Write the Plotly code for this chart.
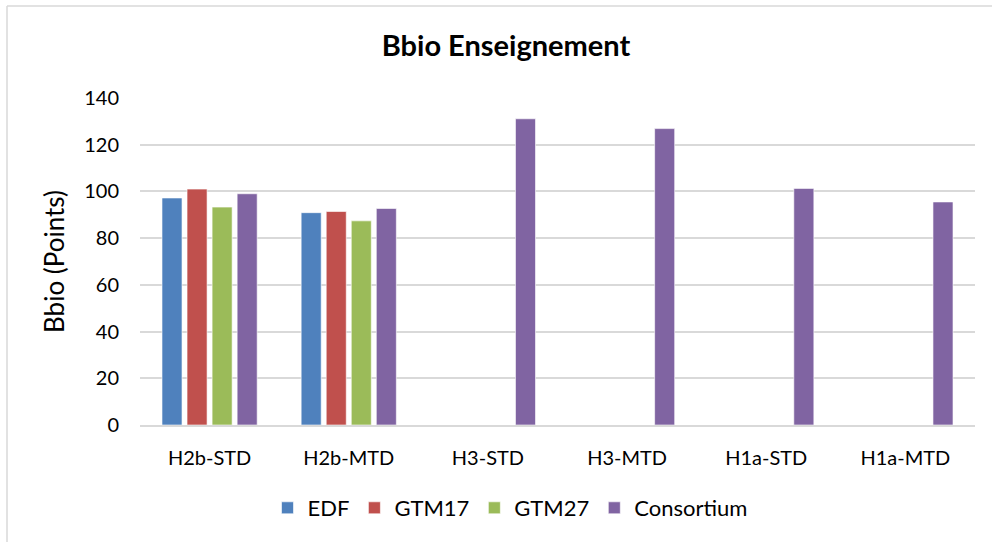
import plotly.graph_objects as go

categories = ["H2b-STD", "H2b-MTD", "H3-STD", "H3-MTD", "H1a-STD", "H1a-MTD"]
edf = [97.2, 90.9, None, None, None, None]
gtm17 = [101.0, 91.4, None, None, None, None]
gtm27 = [93.3, 87.4, None, None, None, None]
consortium = [99.0, 92.7, 131.1, 126.9, 101.3, 95.5]

series_names = ["EDF", "GTM17", "GTM27", "Consortium"]
series_values = [edf, gtm17, gtm27, consortium]
colors = ["#4F81BD", "#C0504D", "#9BBB59", "#8064A2"]

FONT = "Lato"

fig = go.Figure()
for name, vals, col in zip(series_names, series_values, colors):
    fig.add_trace(go.Bar(
        x=categories, y=vals, name=name,
        marker=dict(color=col, line=dict(color="rgba(255,255,255,0.6)", width=1)),
    ))

W, H = 992, 542
L, R, T, B = 140, 17, 98, 117
pw, ph = W - L - R, H - T - B

def px_x(p):
    return (p - L) / pw

def px_y(p):
    return (H - B - p) / ph

fig.update_layout(
    width=W, height=H,
    margin=dict(l=L, r=R, t=T, b=B),
    paper_bgcolor="white", plot_bgcolor="white",
    barmode="group", bargap=0.28, bargroupgap=0.2,
    font=dict(family=FONT, color="#000000"),
    title=dict(text="<b>Bbio Enseignement</b>", x=506 / W, xanchor="center",
               y=1 - 46 / H, yanchor="middle", yref="container",
               font=dict(size=29, family=FONT, color="#000000")),
    xaxis=dict(showgrid=False, showline=True, linecolor="#D9D9D9", linewidth=1.5,
               ticks="", tickfont=dict(size=20, family=FONT), ticklabelstandoff=14),
    yaxis=dict(range=[0, 140], dtick=20, showgrid=True, gridcolor="#D9D9D9", gridwidth=1.5,
               zeroline=False, showline=False, ticks="",
               tickfont=dict(size=20, family=FONT), ticklabelstandoff=20,
               title=dict(text="Bbio (Points)", font=dict(size=26, family=FONT), standoff=12)),
    legend=dict(orientation="h", x=px_x(510), xanchor="center", y=px_y(508), yanchor="middle",
                font=dict(size=22, family=FONT), itemwidth=30, traceorder="normal"),
    showlegend=True,
    shapes=[
        dict(type="line", xref="paper", yref="paper", x0=px_x(7), x1=px_x(W + 5),
             y0=px_y(6), y1=px_y(6), line=dict(color="#D9D9D9", width=1.5)),
        dict(type="line", xref="paper", yref="paper", x0=px_x(7), x1=px_x(7),
             y0=px_y(6), y1=px_y(H + 5), line=dict(color="#D9D9D9", width=1.5)),
    ],
)

fig.write_html("out.html", config={"displayModeBar": False},
               post_script="document.body.style.margin='0';")
